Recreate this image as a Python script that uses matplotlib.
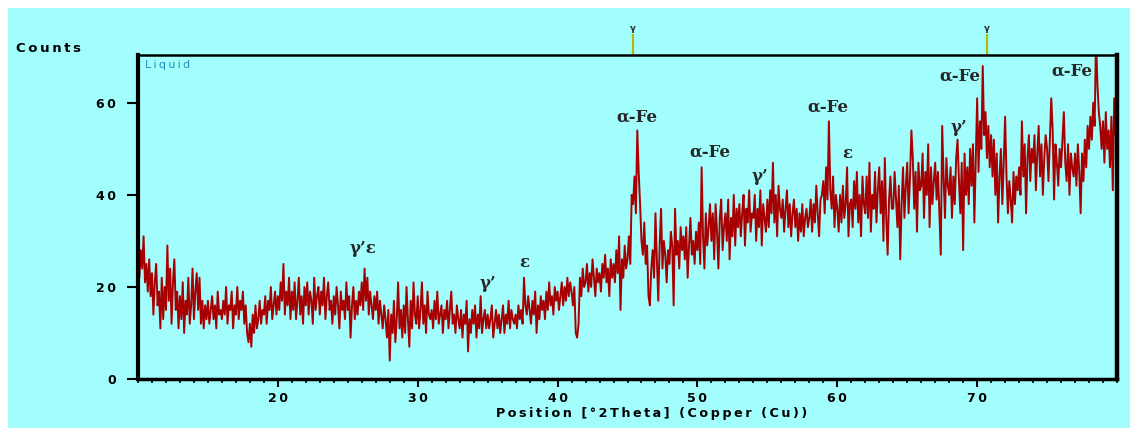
import matplotlib.pyplot as plt
from matplotlib.patches import Rectangle
from matplotlib.ticker import FixedLocator, FixedFormatter, MultipleLocator
import numpy as np

# --- Data: scan from 10 to 80 deg 2theta, step 0.1 ---
scan_start = 10.0
scan_step = 0.1
counts = [
    26, 22, 28, 24, 31, 21, 25, 19, 26, 18,   # 10
    23, 14, 21, 25, 16, 19, 11, 22, 13, 20,   # 11
    15, 29, 17, 24, 12, 21, 26, 15, 19, 11,   # 12
    18, 13, 21, 10, 17, 14, 22, 12, 16, 24,   # 13
    13, 19, 23, 15, 22, 12, 17, 11, 16, 13,   # 14
    17, 12, 15, 18, 13, 16, 11, 19, 14, 15,   # 15
    13, 17, 14, 20, 12, 16, 15, 19, 11, 16,   # 16
    14, 20, 13, 17, 15, 19, 12, 16, 10, 8,    # 17
    12, 7, 14, 10, 16, 11, 13, 17, 12, 15,    # 18
    14, 18, 12, 17, 15, 20, 13, 16, 19, 14,   # 19
    18, 15, 21, 17, 25, 14, 19, 16, 22, 13,   # 20
    19, 15, 21, 13, 17, 22, 14, 18, 12, 20,   # 21
    16, 21, 14, 19, 17, 12, 22, 15, 18, 20,   # 22
    14, 19, 16, 22, 13, 18, 21, 15, 17, 12,   # 23
    18, 14, 20, 16, 11, 19, 15, 17, 13, 21,   # 24
    15, 18, 9, 16, 20, 13, 17, 14, 19, 16,    # 25
    21, 15, 24, 17, 22, 14, 19, 16, 13, 18,   # 26
    15, 19, 12, 17, 14, 11, 16, 13, 9, 15,    # 27
    4, 14, 10, 17, 8, 13, 21, 11, 15, 9,      # 28
    16, 10, 20, 13, 7, 17, 11, 21, 14, 12,    # 29
    18, 11, 15, 21, 12, 16, 10, 19, 14, 13,   # 30
    15, 11, 17, 13, 19, 12, 14, 16, 10, 15,   # 31
    13, 17, 11, 15, 19, 12, 14, 10, 16, 13,   # 32
    11, 15, 9, 14, 12, 17, 6, 13, 10, 15,     # 33
    12, 16, 9, 14, 11, 18, 10, 13, 15, 11,    # 34
    14, 11, 13, 16, 9, 12, 15, 11, 14, 10,    # 35
    13, 16, 10, 14, 12, 17, 11, 15, 13, 12,   # 36
    14, 11, 16, 13, 15, 12, 22, 16, 14, 18,   # 37
    15, 12, 17, 14, 19, 10, 16, 13, 18, 15,   # 38
    17, 13, 19, 15, 21, 16, 18, 14, 20, 17,   # 39
    19, 15, 18, 21, 16, 20, 17, 22, 18, 21,   # 40
    19, 16, 20, 10, 9, 12, 22, 18, 24, 20,    # 41
    21, 25, 19, 23, 20, 26, 22, 18, 24, 21,   # 42
    23, 19, 25, 22, 27, 21, 24, 18, 26, 22,   # 43
    25, 21, 28, 23, 31, 15, 26, 22, 29, 24,   # 44
    26, 31, 25, 40, 38, 44, 36, 54, 45, 38,   # 45
    30, 27, 34, 25, 29, 18, 16, 24, 28, 22,   # 46
    36, 26, 17, 29, 37, 24, 30, 27, 21, 28,   # 47
    25, 32, 29, 16, 37, 27, 30, 24, 33, 28,   # 48
    31, 26, 33, 22, 29, 35, 27, 30, 25, 32,   # 49
    28, 34, 25, 46, 31, 24, 36, 29, 33, 38,   # 50
    30, 36, 26, 38, 32, 24, 35, 39, 28, 33,   # 51
    36, 30, 39, 26, 35, 31, 40, 29, 37, 33,   # 52
    38, 31, 36, 40, 29, 37, 34, 41, 32, 36,   # 53
    35, 40, 30, 37, 33, 41, 29, 38, 35, 32,   # 54
    39, 33, 41, 36, 47, 34, 40, 31, 42, 37,   # 55
    35, 39, 32, 37, 41, 33, 38, 31, 36, 39,   # 56
    33, 37, 30, 36, 32, 38, 31, 35, 37, 33,   # 57
    35, 39, 32, 38, 34, 42, 36, 31, 39, 40,   # 58
    43, 36, 46, 39, 56, 41, 37, 44, 33, 40,   # 59
    37, 32, 40, 34, 42, 35, 38, 46, 31, 38,   # 60
    39, 33, 43, 37, 45, 34, 40, 31, 44, 38,   # 61
    36, 44, 35, 47, 32, 40, 37, 45, 34, 41,   # 62
    46, 36, 43, 30, 48, 35, 27, 39, 44, 37,   # 63
    37, 45, 39, 33, 42, 26, 38, 46, 35, 42,   # 64
    47, 36, 44, 54, 48, 37, 45, 32, 47, 41,   # 65
    42, 49, 35, 45, 40, 51, 33, 46, 38, 43,   # 66
    47, 39, 45, 36, 27, 55, 44, 35, 48, 42,   # 67
    40, 46, 35, 44, 38, 48, 52, 43, 36, 47,   # 68
    28, 49, 40, 46, 38, 50, 42, 51, 34, 48,   # 69
    61, 45, 56, 50, 68, 53, 58, 48, 55, 46,   # 70
    53, 44, 52, 40, 49, 34, 44, 50, 38, 47,   # 71
    57, 44, 36, 43, 39, 34, 45, 38, 44, 41,   # 72
    46, 40, 56, 44, 51, 36, 48, 53, 43, 50,   # 73
    47, 53, 41, 49, 55, 44, 51, 40, 48, 53,   # 74
    50, 43, 52, 61, 54, 39, 51, 47, 42, 50,   # 75
    46, 52, 58, 47, 43, 51, 40, 49, 46, 44,   # 76
    49, 42, 51, 45, 36, 49, 43, 52, 46, 55,   # 77
    50, 57, 52, 60, 55, 74, 64, 58, 55, 50,   # 78
    56, 47, 58, 50, 54, 46, 57, 41, 61, 53,   # 79
    57,                                       # 80
]
two_theta = scan_start + scan_step * np.arange(len(counts))

# phase labels
peak_labels = ["γ’ε", "γ’", "ε", "α-Fe", "α-Fe", "γ’", "α-Fe", "ε", "γ’", "α-Fe", "α-Fe"]
peak_x = [26.1, 35.05, 37.6, 45.65, 50.87, 54.5, 59.3, 60.7, 68.7, 68.77, 76.8]
peak_y = [28.3, 20.7, 25.4, 57.0, 49.3, 43.9, 59.1, 48.9, 54.6, 65.9, 67.0]

# reference pattern positions shown above the plot
ref_positions = [45.36, 70.7]
ref_label = "γ"

x_ticks = [20, 30, 40, 50, 60, 70]
y_ticks = [0, 20, 40, 60]

cyan = '#a2fdfd'
red = '#a80000'
thin = '\u2009'


def spaced(s):
    # the instrument software draws its labels with wide letter spacing
    return thin.join(s)


fig = plt.figure(figsize=(11.3, 4.28), dpi=100, facecolor='white')
# cyan panel with white strip on top and left
fig.patches.append(Rectangle((8 / 1130, 0), 1, 1 - 8 / 428, transform=fig.transFigure,
                             facecolor=cyan, edgecolor='none', zorder=-10))

ax = fig.add_axes([138 / 1130, 1 - 379 / 428, (1117 - 138) / 1130, (379 - 55) / 428])
ax.set_facecolor(cyan)

ax.plot(two_theta, counts, color=red, linewidth=1.4)

ax.set_xlim(10, 80)
ax.set_ylim(0, 70.4)

# axes frame
for side, lw in [('left', 3.0), ('bottom', 2.5), ('top', 1.8), ('right', 3.2)]:
    ax.spines[side].set_linewidth(lw)
    ax.spines[side].set_color('black')

ax.xaxis.set_major_locator(FixedLocator(x_ticks))
ax.xaxis.set_major_formatter(FixedFormatter([spaced(str(t)) for t in x_ticks]))
ax.xaxis.set_minor_locator(MultipleLocator(1))
ax.yaxis.set_major_locator(FixedLocator(y_ticks))
ax.yaxis.set_major_formatter(FixedFormatter([spaced(str(t)) for t in y_ticks]))
ax.tick_params(axis='x', which='major', direction='out', length=6, width=1.5, pad=3)
ax.tick_params(axis='x', which='minor', direction='out', length=3, width=1.2)
ax.tick_params(axis='y', which='major', direction='out', length=8, width=1.5, pad=8)
for lab in ax.get_xticklabels() + ax.get_yticklabels():
    lab.set_fontweight('bold')
    lab.set_fontsize(9)

# phase annotations
for lab, px, py in zip(peak_labels, peak_x, peak_y):
    ax.text(px, py, lab, ha='center', va='center', fontsize=12, fontweight='bold',
            family='DejaVu Serif', color='#262626')

ax.text(0.007, 0.985, spaced("Liquid"), transform=ax.transAxes, ha='left', va='top',
        fontsize=8, color='#1f8fc0')

# reference sticks above the frame
for rp in ref_positions:
    ax.plot([rp, rp], [70.4, 70.4 + 20 / 4.6], color='#b5b800', linewidth=1.5,
            clip_on=False)
    ax.text(rp, 70.4 + 22 / 4.6, ref_label, ha='center', va='bottom', fontsize=6,
            fontweight='bold', color='#222222')

fig.text(16 / 1130, 1 - 48 / 428, spaced("Counts"), ha='left', va='center',
         fontsize=9.5, fontweight='bold')
fig.text(652 / 1130, 1 - 413 / 428, spaced("Position [°2Theta] (Copper (Cu))"),
         ha='center', va='center', fontsize=9.2, fontweight='bold')

fig.savefig('out.png', dpi=100, facecolor=fig.get_facecolor())
